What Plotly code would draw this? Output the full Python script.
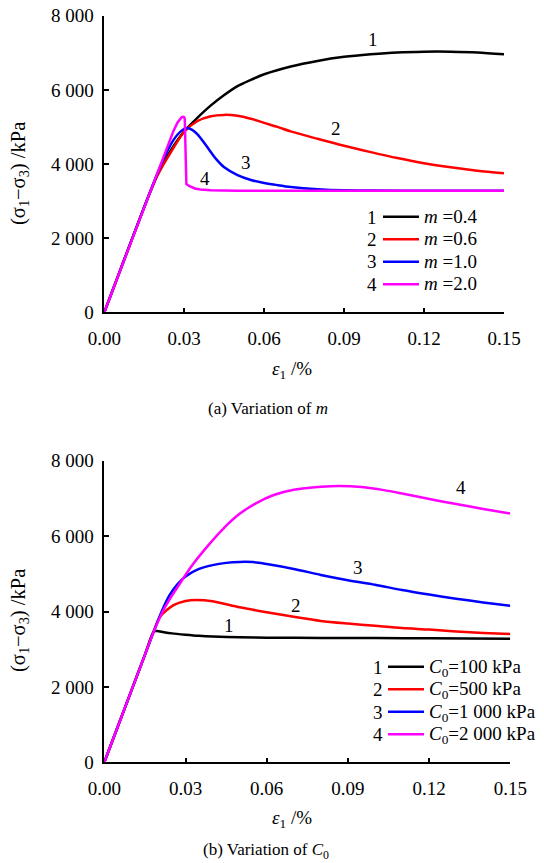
import plotly.graph_objects as go

# ---------------- data: (a) variation of m ----------------
a1_x = [0, 0.005, 0.01, 0.015, 0.018, 0.02, 0.025, 0.03, 0.035, 0.04, 0.045, 0.05, 0.055, 0.06,
        0.07, 0.08, 0.09, 0.10, 0.11, 0.12, 0.13, 0.14, 0.15]
a1_y = [0, 950, 1900, 2840, 3380, 3720, 4370, 4880, 5250, 5580, 5860, 6100, 6270, 6420,
        6630, 6780, 6890, 6960, 7010, 7030, 7030, 7010, 6960]

a2_x = [0, 0.005, 0.01, 0.015, 0.018, 0.02, 0.025, 0.03, 0.035, 0.04, 0.045, 0.05, 0.055, 0.06,
        0.065, 0.07, 0.08, 0.09, 0.10, 0.11, 0.12, 0.13, 0.14, 0.15]
a2_y = [0, 950, 1900, 2840, 3380, 3700, 4320, 4870, 5160, 5290, 5325, 5300, 5220, 5110,
        5000, 4880, 4680, 4490, 4320, 4160, 4020, 3910, 3820, 3750]

a3_x = [0, 0.005, 0.01, 0.015, 0.018, 0.02, 0.023, 0.026, 0.029, 0.031, 0.033, 0.035, 0.0385,
        0.042, 0.045, 0.05, 0.055, 0.06, 0.065, 0.07, 0.08, 0.09, 0.10, 0.12, 0.15]
a3_y = [0, 950, 1900, 2840, 3400, 3760, 4250, 4650, 4900, 4970, 4920, 4800, 4470,
        4130, 3910, 3700, 3570, 3490, 3430, 3380, 3320, 3290, 3285, 3280, 3280]

a4_x = [0, 0.005, 0.01, 0.015, 0.02, 0.0235, 0.026, 0.0275, 0.0283, 0.0290, 0.0295, 0.0299,
        0.0302, 0.0305, 0.0308, 0.032, 0.034, 0.036, 0.04, 0.05, 0.07, 0.10, 0.15]
a4_y = [0, 950, 1900, 2850, 3800, 4460, 4900, 5120, 5210, 5260, 5275, 5265,
        5220, 4500, 3460, 3400, 3340, 3310, 3290, 3280, 3280, 3280, 3280]

a_names = ["<i>m</i> =0.4", "<i>m</i> =0.6", "<i>m</i> =1.0", "<i>m</i> =2.0"]

# ---------------- data: (b) variation of C0 ----------------
b1_x = [0, 0.005, 0.01, 0.015, 0.0183, 0.0195, 0.022, 0.025, 0.03, 0.035, 0.04, 0.05, 0.06,
        0.08, 0.10, 0.12, 0.15]
b1_y = [0, 950, 1900, 2850, 3470, 3480, 3450, 3420, 3385, 3355, 3335, 3315, 3305,
        3300, 3295, 3290, 3280]

b2_x = [0, 0.005, 0.01, 0.015, 0.018, 0.0206, 0.0256, 0.03, 0.034, 0.04, 0.05, 0.06, 0.07,
        0.08, 0.09, 0.10, 0.11, 0.12, 0.13, 0.14, 0.15]
b2_y = [0, 950, 1900, 2850, 3420, 3860, 4170, 4280, 4305, 4270, 4110, 3980, 3860,
        3750, 3680, 3620, 3560, 3520, 3470, 3430, 3400]

b3_x = [0, 0.005, 0.01, 0.015, 0.018, 0.021, 0.024, 0.027, 0.03, 0.035, 0.04, 0.045, 0.05,
        0.055, 0.06, 0.07, 0.08, 0.09, 0.10, 0.11, 0.12, 0.13, 0.14, 0.15]
b3_y = [0, 950, 1900, 2850, 3420, 3970, 4420, 4720, 4930, 5130, 5230, 5290, 5315,
        5310, 5260, 5130, 4970, 4830, 4710, 4570, 4450, 4340, 4240, 4150]

b4_x = [0, 0.005, 0.01, 0.015, 0.018, 0.022, 0.025, 0.028, 0.032, 0.038, 0.044, 0.05, 0.056,
        0.0626, 0.07, 0.08, 0.087, 0.095, 0.1033, 0.11, 0.1219, 0.13, 0.14, 0.15]
b4_y = [0, 950, 1900, 2850, 3420, 4060, 4420, 4750, 5180, 5720, 6200, 6590, 6870,
        7090, 7230, 7310, 7330, 7300, 7220, 7130, 6960, 6850, 6720, 6600]

b_names = ["<i>C</i><sub>0</sub>=100 kPa", "<i>C</i><sub>0</sub>=500 kPa",
           "<i>C</i><sub>0</sub>=1 000 kPa", "<i>C</i><sub>0</sub>=2 000 kPa"]

colors = ["#000000", "#ff0000", "#0000ff", "#ff00ff"]

x_ticks = [0, 0.03, 0.06, 0.09, 0.12, 0.15]
x_ticktext = ["0.00", "0.03", "0.06", "0.09", "0.12", "0.15"]
y_ticks = [0, 2000, 4000, 6000, 8000]
y_ticktext = ["0", "2 000", "4 000", "6 000", "8 000"]

# curve number labels (data coords)
a_lab = [(0.1008, 7350, "1"), (0.0869, 4970, "2"), (0.0531, 4050, "3"), (0.0378, 3620, "4")]
b_lab = [(0.0461, 3640, "1"), (0.0708, 4170, "2"), (0.0937, 5180, "3"), (0.1318, 7280, "4")]

FONT = "Liberation Serif"
FS = 19
LEG_FS = 15          # controls legend row spacing
W, H = 544, 863


def big(t):
    return '<span style="font-size:19px">' + t + "</span>"


fig = go.Figure()
for i, (xs, ys, c, n) in enumerate(zip([a1_x, a2_x, a3_x, a4_x], [a1_y, a2_y, a3_y, a4_y], colors, a_names)):
    shape = "linear" if i == 3 else "spline"
    fig.add_trace(go.Scatter(x=xs, y=ys, mode="lines", name=big(n),
                             line=dict(color=c, width=2.5, shape=shape, smoothing=0.8),
                             xaxis="x", yaxis="y", legend="legend"))
for xs, ys, c, n in zip([b1_x, b2_x, b3_x, b4_x], [b1_y, b2_y, b3_y, b4_y], colors, b_names):
    fig.add_trace(go.Scatter(x=xs, y=ys, mode="lines", name=big(n),
                             line=dict(color=c, width=2.5, shape="spline", smoothing=0.8),
                             xaxis="x2", yaxis="y2", legend="legend2"))

def px_x(p):
    return p / W

def px_y(p):
    return 1 - p / H

axis_common = dict(showgrid=False, zeroline=False, showline=True, linecolor="black", linewidth=1.5,
                   ticks="inside", ticklen=5, tickwidth=1.5, tickcolor="black", automargin=False,
                   tickfont=dict(family=FONT, size=FS, color="black"))

fig.update_layout(
    template="none",
    width=W, height=H, margin=dict(l=0, r=0, t=0, b=0, pad=0),
    paper_bgcolor="white", plot_bgcolor="white",
    font=dict(family=FONT, size=FS, color="black"),
    xaxis=dict(domain=[px_x(104.3), px_x(504)], range=[0, 0.15], tickvals=x_ticks, ticktext=x_ticktext,
               anchor="y", ticklabelstandoff=8, **axis_common),
    yaxis=dict(domain=[px_y(312.3), px_y(15.7)], range=[0, 8000], tickvals=y_ticks, ticktext=y_ticktext,
               anchor="x", ticklabelstandoff=5, **axis_common),
    xaxis2=dict(domain=[px_x(104.3), px_x(510.3)], range=[0, 0.15], tickvals=x_ticks, ticktext=x_ticktext,
                anchor="y2", ticklabelstandoff=8, **axis_common),
    yaxis2=dict(domain=[px_y(762.3), px_y(460.7)], range=[0, 8000], tickvals=y_ticks, ticktext=y_ticktext,
                anchor="x2", ticklabelstandoff=5, **axis_common),
    legend=dict(x=px_x(378), y=px_y(200.5), xanchor="left", yanchor="top", bgcolor="rgba(0,0,0,0)",
                font=dict(family=FONT, size=LEG_FS), tracegroupgap=0, itemwidth=36),
    legend2=dict(x=px_x(383), y=px_y(650.5), xanchor="left", yanchor="top", bgcolor="rgba(0,0,0,0)",
                 font=dict(family=FONT, size=LEG_FS), tracegroupgap=0, itemwidth=36),
    showlegend=True,
)

ann = []
for x, y, t in a_lab:
    ann.append(dict(x=x, y=y, xref="x", yref="y", text=t, showarrow=False, font=dict(family=FONT, size=FS)))
for x, y, t in b_lab:
    ann.append(dict(x=x, y=y, xref="x2", yref="y2", text=t, showarrow=False, font=dict(family=FONT, size=FS)))
# legend numbers
for i, yy in enumerate([217, 239.5, 262, 284.5]):
    ann.append(dict(x=px_x(372), y=px_y(yy), xref="paper", yref="paper", text=str(i + 1), showarrow=False,
                    xanchor="center", yanchor="middle", font=dict(family=FONT, size=FS)))
for i, yy in enumerate([667, 689.5, 712, 734.5]):
    ann.append(dict(x=px_x(378), y=px_y(yy), xref="paper", yref="paper", text=str(i + 1), showarrow=False,
                    xanchor="center", yanchor="middle", font=dict(family=FONT, size=FS)))
# axis titles
for yc in [370, 819]:
    ann.append(dict(x=px_x(292), y=px_y(yc), xref="paper", yref="paper", text="<i>ε</i><sub>1</sub> /%",
                    showarrow=False, xanchor="center", yanchor="middle", font=dict(family=FONT, size=FS)))
for yc in [174, 621]:
    ann.append(dict(x=px_x(19), y=px_y(yc), xref="paper", yref="paper", text="(σ<sub>1</sub>−σ<sub>3</sub>) /kPa",
                    textangle=-90, showarrow=False, xanchor="center", yanchor="middle",
                    font=dict(family=FONT, size=20.5)))
# captions
ann.append(dict(x=px_x(268), y=px_y(408), xref="paper", yref="paper", text="(a) Variation of <i>m</i>",
                showarrow=False, xanchor="center", yanchor="middle", font=dict(family=FONT, size=17)))
ann.append(dict(x=px_x(266), y=px_y(851), xref="paper", yref="paper", text="(b) Variation of <i>C</i><sub>0</sub>",
                showarrow=False, xanchor="center", yanchor="middle", font=dict(family=FONT, size=17)))
fig.update_layout(annotations=ann)

fig.write_html("out.html")
